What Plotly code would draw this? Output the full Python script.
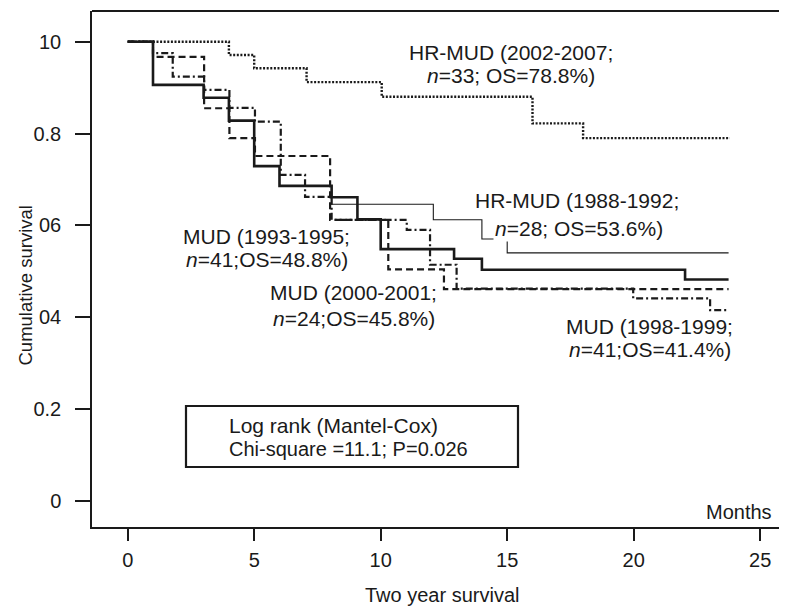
import plotly.graph_objects as go

# ---- data (months, cumulative survival) ----
hr0207_t = [0, 4, 5, 7.07, 10.04, 16, 18, 23.8]
hr0207_s = [1.0, 0.971, 0.942, 0.912, 0.880, 0.822, 0.790, 0.790]

hr8892_t = [0, 1, 3, 4, 5, 6, 8.06, 12.08, 14.0, 15.0, 23.75]
hr8892_s = [1.0, 0.906, 0.878, 0.828, 0.729, 0.686, 0.646, 0.612, 0.570, 0.540, 0.540]

mud9395_t = [0, 1, 3, 4, 5, 6, 8.06, 9.08, 10.0, 12.9, 14.0, 22.03, 23.75]
mud9395_s = [1.0, 0.906, 0.878, 0.828, 0.729, 0.686, 0.661, 0.613, 0.548, 0.527, 0.503, 0.482, 0.482]

mud0001_t = [0, 1, 3.02, 4.02, 5.03, 8.0, 10.3, 12.5, 23.75]
mud0001_s = [1.0, 0.967, 0.855, 0.790, 0.751, 0.612, 0.504, 0.461, 0.461]

mud9899_t = [0, 1, 1.78, 3.02, 4.02, 5.03, 6.05, 7.01, 8.06, 11.03, 11.95, 13.0, 19.98, 23.02, 23.75]
mud9899_s = [1.0, 0.975, 0.924, 0.895, 0.856, 0.826, 0.710, 0.662, 0.612, 0.590, 0.514, 0.462, 0.441, 0.415, 0.415]

x_ticks = [0, 5, 10, 15, 20, 25]
y_ticks = [0, 0.2, 0.4, 0.6, 0.8, 1.0]
y_ticktext = ["0", "0.2", "04", "06", "0.8", "10"]

INK = "#1a1a1a"
FONT = "Liberation Sans, Arial, Helvetica, sans-serif"

fig = go.Figure()

def add_curve(t, s, width, dash):
    fig.add_trace(go.Scatter(
        x=t, y=s, mode="lines", line=dict(shape="hv", color=INK, width=width, dash=dash),
        hoverinfo="skip", showlegend=False))

add_curve(hr8892_t, hr8892_s, 1.1, "solid")
add_curve(hr0207_t, hr0207_s, 2.4, "2px,1.6px")
add_curve(mud0001_t, mud0001_s, 2.2, "7px,4px")
add_curve(mud9899_t, mud9899_s, 2.2, "7px,3px,2px,3px")
add_curve(mud9395_t, mud9395_s, 2.6, "solid")

# page offset (browser body margin) and plot area in page pixels
OFF = 8
FIG_W, FIG_H = 787 - OFF, 612 - OFF
L, R, T, B = 92, 787, 11, 527
W, H = R - L, B - T

def px(xp):
    return (xp - L) / W

def py(yp):
    return (B - yp) / H

ann = []

def label(text, x, y, size=21, xanchor="center", bg=None, angle=0):
    d = dict(text=text, x=px(x), y=py(y), xref="paper", yref="paper", showarrow=False,
             xanchor=xanchor, yanchor="middle", font=dict(family=FONT, size=size, color=INK),
             textangle=angle)
    if bg:
        d["bgcolor"] = bg
    ann.append(d)

label("HR-MUD (2002-2007;", 510.5, 52)
label("<i>n</i>=33; OS=78.8%)", 510.5, 75.5)
label("HR-MUD (1988-1992;", 577, 200)
label("<i>n</i>=28; OS=53.6%)", 579, 228.5, bg="white")
label("MUD (1993-1995;", 266.5, 236)
label("<i>n</i>=41;OS=48.8%)", 267, 259.5)
label("MUD (2000-2001;", 353.7, 292.5)
label("<i>n</i>=24;OS=45.8%)", 354, 318)
label("MUD (1998-1999;", 649, 326.7)
label("<i>n</i>=41;OS=41.4%)", 650, 349)
label("Log rank (Mantel-Cox)", 227, 425, xanchor="left")
label("Chi-square =11.1; P=0.026", 227, 449, size=20, xanchor="left")
label("Months", 738.5, 512, size=20)
label("Two year survival", 442, 595, size=20)
label("Cumulative survival", 25, 285.5, size=18.5, angle=-90)

shapes = [
    dict(type="line", xref="paper", yref="paper", x0=0, x1=1, y0=1, y1=1,
         line=dict(color=INK, width=2)),
    dict(type="rect", xref="paper", yref="paper", x0=px(186), x1=px(518), y0=py(406), y1=py(467),
         line=dict(color=INK, width=2.2), fillcolor="rgba(0,0,0,0)"),
]

fig.update_layout(
    width=FIG_W, height=FIG_H,
    margin=dict(l=L - OFF, r=0, t=T - OFF, b=FIG_H - (B - OFF), pad=0),
    paper_bgcolor="white", plot_bgcolor="white",
    font=dict(family=FONT, color=INK),
    annotations=ann, shapes=shapes,
    xaxis=dict(range=[(L - 127.7) / 25.3, (R - 127.7) / 25.3], tickvals=x_ticks,
               ticks="outside", ticklen=12, tickwidth=2, tickcolor=INK,
               showline=True, linecolor=INK, linewidth=1.5, showgrid=False, zeroline=False,
               tickfont=dict(size=20, color=INK, family=FONT), ticklabelstandoff=2),
    yaxis=dict(range=[(500.7 - B) / 459, (500.7 - T) / 459], tickvals=y_ticks, ticktext=y_ticktext,
               ticks="outside", ticklen=15, tickwidth=2, tickcolor=INK,
               showline=True, linecolor=INK, linewidth=1.5, showgrid=False, zeroline=False,
               tickfont=dict(size=20, color=INK, family=FONT), ticklabelstandoff=10),
)

fig.write_html("out.html")
